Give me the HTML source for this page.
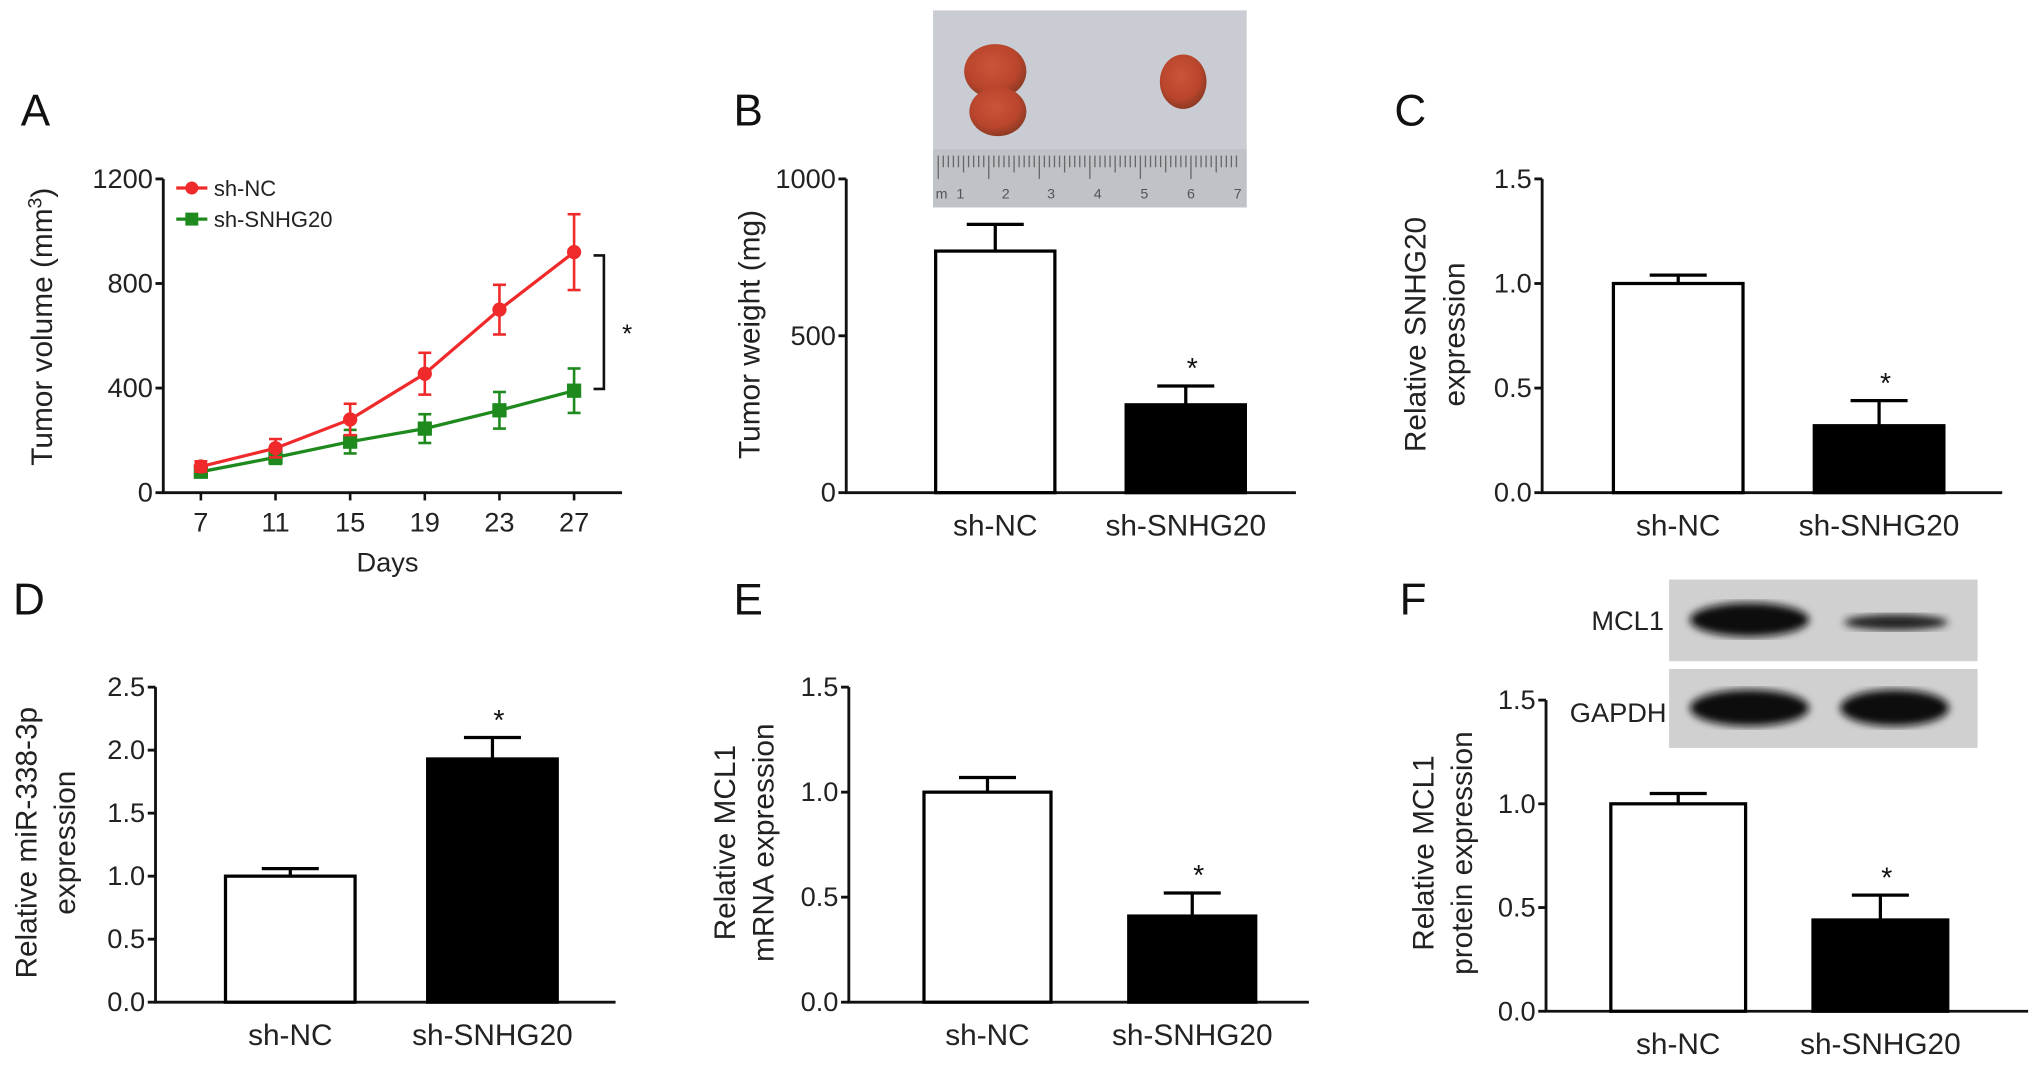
<!DOCTYPE html>
<html><head><meta charset="utf-8"><style>
html,body{margin:0;padding:0;background:#fff;}
svg{display:block;font-family:"Liberation Sans",Arial,sans-serif;}
</style></head><body>
<svg id="fig" width="2032" height="1067" viewBox="0 0 1568 823" preserveAspectRatio="none" xmlns="http://www.w3.org/2000/svg">
<defs>
<radialGradient id="tum" cx="45%" cy="40%" r="60%"><stop offset="0" stop-color="#c8543a"/><stop offset="0.7" stop-color="#b9452c"/><stop offset="1" stop-color="#8e3a24"/></radialGradient>
<filter id="blur"><feGaussianBlur stdDeviation="3"/></filter>
</defs>
<g>
<rect x="720" y="8" width="242" height="152" fill="#c9ccd2"/>
<rect x="720" y="115" width="242" height="45" fill="#bfc2c7"/>
<ellipse cx="768" cy="55" rx="24" ry="21" fill="url(#tum)"/>
<ellipse cx="770" cy="86" rx="22" ry="19" fill="url(#tum)"/>
<ellipse cx="913" cy="63" rx="18" ry="21" fill="url(#tum)"/>
<g id="ruler" stroke="#666" stroke-width="1"></g>
<g font-size="11" fill="#555">
<text x="722" y="153">m</text><text x="738" y="153">1</text><text x="773" y="153">2</text><text x="808" y="153">3</text><text x="844" y="153">4</text><text x="880" y="153">5</text><text x="916" y="153">6</text><text x="952" y="153">7</text>
</g>
</g>
<g>
<rect x="1288" y="447" width="238" height="63" fill="#d0d0d0"/>
<rect x="1288" y="516" width="238" height="61" fill="#d0d0d0"/>
<ellipse cx="1350" cy="478" rx="46" ry="13" fill="#111" filter="url(#blur)"/>
<ellipse cx="1463" cy="480" rx="40" ry="6" fill="#222" filter="url(#blur)"/>
<ellipse cx="1350" cy="546" rx="46" ry="14" fill="#111" filter="url(#blur)"/>
<ellipse cx="1462" cy="546" rx="42" ry="14" fill="#111" filter="url(#blur)"/>
<text x="1284" y="486" font-size="21" text-anchor="end" fill="#222">MCL1</text>
<text x="1286" y="557" font-size="21" text-anchor="end" fill="#222">GAPDH</text>
</g>
<g id="plots"></g>
</svg>
<script>
// Panel A data
const days = [7, 11, 15, 19, 23, 27];
const ncVolume = [100, 170, 280, 455, 700, 920];
const ncVolumeErr = [20, 35, 60, 80, 95, 145];
const snVolume = [80, 135, 195, 245, 315, 390];
const snVolumeErr = [15, 25, 45, 55, 70, 85];
const volTicks = [0, 400, 800, 1200];
// Bar panels
const groups = ["sh-NC", "sh-SNHG20"];
const weightVals = [770, 280];
const weightErr = [85, 60];
const weightTicks = [0, 500, 1000];
const snhgVals = [1.0, 0.32];
const snhgErr = [0.04, 0.12];
const mirVals = [1.0, 1.93];
const mirErr = [0.06, 0.17];
const mrnaVals = [1.0, 0.41];
const mrnaErr = [0.07, 0.11];
const protVals = [1.0, 0.44];
const protErr = [0.05, 0.12];
const tick15 = ["0.0", "0.5", "1.0", "1.5"];
const tick25 = ["0.0", "0.5", "1.0", "1.5", "2.0", "2.5"];

const NS = "http://www.w3.org/2000/svg";
const root = document.getElementById("plots");
function el(tag, attrs, parent, txt) {
  const e = document.createElementNS(NS, tag);
  for (const k in attrs) e.setAttribute(k, attrs[k]);
  if (txt !== undefined) e.textContent = txt;
  (parent || root).appendChild(e);
  return e;
}
const ruler = document.getElementById("ruler");
for (let i = 0; i < 60; i++) {
  const l = el("line", {x1: 724 + i * 3.9, x2: 724 + i * 3.9, y1: 120, y2: i % 10 === 0 ? 138 : (i % 5 === 0 ? 133 : 129)}, ruler);
  
  
}

function letter(t, x, y) {
  const e = el("text", {x: x, y: y, "font-size": 34, fill: "#111"}, root, t);
  
  
}

function yTitle(lines, x, cy, name) {
  const g = el("g", {});
  
  
  lines.forEach((ln, i) => {
    el("text", {x: 0, y: 0, "font-size": 23, "text-anchor": "middle", fill: "#222",
      transform: "translate(" + (x + i * 30) + "," + cy + ") rotate(-90)"}, g, ln);
  });
  return g;
}

function axesY(ax, top, bottom, xEnd, ticks, vmax, name) {
  const g = el("g", {stroke: "#111", "stroke-width": 2.2});
  
  
  el("line", {x1: ax, x2: ax, y1: top, y2: bottom + 1}, g);
  el("line", {x1: ax - 1, x2: xEnd, y1: bottom, y2: bottom}, g);
  ticks.forEach(t => {
    const v = parseFloat(t);
    const y = bottom - v / vmax * (bottom - top);
    el("line", {x1: ax - 6, x2: ax, y1: y, y2: y}, g);
    const tx = el("text", {x: ax - 8, y: y + 7, "font-size": 21, "text-anchor": "end", fill: "#222", stroke: "none"}, root, t);
    
    
  });
}

function barPanel(o) {
  const {ax, top, bottom, xEnd, ticks, vmax, vals, errs, centers, width, name, labelY} = o;
  axesY(ax, top, bottom, xEnd, ticks, vmax, name);
  const sy = v => bottom - v / vmax * (bottom - top);
  vals.forEach((v, i) => {
    const cx = centers[i];
    const y = sy(v);
    const r = el("rect", {x: cx - width / 2, y: y, width: width, height: bottom - y,
      fill: i === 0 ? "#fff" : "#000", stroke: "#000", "stroke-width": 2.5});
    
    
    const ye = sy(v + errs[i]);
    const eg = el("g", {stroke: "#000", "stroke-width": 2.5});
    
    
    el("line", {x1: cx, x2: cx, y1: y, y2: ye}, eg);
    el("line", {x1: cx - 22, x2: cx + 22, y1: ye, y2: ye}, eg);
    if (i === 1) {
      const s = el("text", {x: cx + 5, y: ye - 6, "font-size": 22, "text-anchor": "middle", fill: "#111"}, root, "*");
      
      
    }
    const lb = el("text", {x: cx, y: labelY, "font-size": 23, "text-anchor": "middle", fill: "#222"}, root, groups[i]);
    
    
  });
}

letter("A", 16, 97);
(function () {
  const ax = 126, top = 138, bottom = 380, xEnd = 480, vmax = 1200;
  axesY(ax, top, bottom, xEnd, volTicks.map(String), vmax, "panel-a");
  const sx = d => 155 + (d - 7) / 20 * 288;
  const sy = v => bottom - v / vmax * (bottom - top);
  days.forEach(d => {
    const l = el("line", {x1: sx(d), x2: sx(d), y1: bottom, y2: bottom + 6, stroke: "#111", "stroke-width": 2});
    
    
    const t = el("text", {x: sx(d), y: bottom + 30, "font-size": 21, "text-anchor": "middle", fill: "#222"}, root, String(d));
    
    
  });
  const xt = el("text", {x: 299, y: 441, "font-size": 21, "text-anchor": "middle", fill: "#222"}, root, "Days");
  
  
  const yt = el("text", {x: 0, y: 0, "font-size": 23, "text-anchor": "middle", fill: "#222", transform: "translate(40,252) rotate(-90)"});
  
  
  yt.innerHTML = 'Tumor volume (mm<tspan dy="-8" font-size="15">3</tspan><tspan dy="8">)</tspan>';
  function series(vals, errs, color, marker, name) {
    const g = el("g", {});
    
    
    const pts = days.map((d, i) => sx(d) + "," + sy(vals[i])).join(" ");
    el("polyline", {points: pts, fill: "none", stroke: color, "stroke-width": 2.5}, g);
    days.forEach((d, i) => {
      const x = sx(d), y1 = sy(vals[i] - errs[i]), y2 = sy(vals[i] + errs[i]);
      el("line", {x1: x, x2: x, y1: y1, y2: y2, stroke: color, "stroke-width": 2}, g);
      el("line", {x1: x - 5, x2: x + 5, y1: y1, y2: y1, stroke: color, "stroke-width": 2}, g);
      el("line", {x1: x - 5, x2: x + 5, y1: y2, y2: y2, stroke: color, "stroke-width": 2}, g);
      if (marker === "c") el("circle", {cx: x, cy: sy(vals[i]), r: 5.5, fill: color}, g);
      else el("rect", {x: x - 5.5, y: sy(vals[i]) - 5.5, width: 11, height: 11, fill: color}, g);
    });
  }
  series(snVolume, snVolumeErr, "#1e8a1e", "s", "series-sh-snhg20");
  series(ncVolume, ncVolumeErr, "#f02a2a", "c", "series-sh-nc");
  const lg = el("g", {});
  
  
  el("line", {x1: 136, x2: 160, y1: 145, y2: 145, stroke: "#f02a2a", "stroke-width": 2.5}, lg);
  el("circle", {cx: 148, cy: 145, r: 5, fill: "#f02a2a"}, lg);
  el("text", {x: 165, y: 151, "font-size": 17, fill: "#222"}, lg, "sh-NC");
  el("line", {x1: 136, x2: 160, y1: 169, y2: 169, stroke: "#1e8a1e", "stroke-width": 2.5}, lg);
  el("rect", {x: 143, y: 164, width: 10, height: 10, fill: "#1e8a1e"}, lg);
  el("text", {x: 165, y: 175, "font-size": 17, fill: "#222"}, lg, "sh-SNHG20");
  const br = el("polyline", {points: "458,197 466,197 466,300 458,300", fill: "none", stroke: "#111", "stroke-width": 2});
  
  
  const st = el("text", {x: 484, y: 264, "font-size": 20, "text-anchor": "middle", fill: "#111"}, root, "*");
  
  
})();

letter("B", 566, 97);
yTitle(["Tumor weight (mg)"], 586, 258, "panel-b-y-axis-title");
barPanel({ax: 653, top: 138, bottom: 380, xEnd: 1000, ticks: weightTicks.map(String), vmax: 1000,
  vals: weightVals, errs: weightErr, centers: [768, 915], width: 92, name: "panel-b", labelY: 413});

letter("C", 1076, 97);
yTitle(["Relative SNHG20", "expression"], 1100, 258, "panel-c-y-axis-title");
barPanel({ax: 1190, top: 138, bottom: 380, xEnd: 1545, ticks: tick15, vmax: 1.5,
  vals: snhgVals, errs: snhgErr, centers: [1295, 1450], width: 100, name: "panel-c", labelY: 413});

letter("D", 10, 474);
yTitle(["Relative miR-338-3p", "expression"], 28, 650, "panel-d-y-axis-title");
barPanel({ax: 120, top: 530, bottom: 773, xEnd: 475, ticks: tick25, vmax: 2.5,
  vals: mirVals, errs: mirErr, centers: [224, 380], width: 100, name: "panel-d", labelY: 806});

letter("E", 566, 474);
yTitle(["Relative MCL1", "mRNA expression"], 567, 650, "panel-e-y-axis-title");
barPanel({ax: 655, top: 530, bottom: 773, xEnd: 1010, ticks: tick15, vmax: 1.5,
  vals: mrnaVals, errs: mrnaErr, centers: [762, 920], width: 98, name: "panel-e", labelY: 806});

letter("F", 1080, 474);
yTitle(["Relative MCL1", "protein expression"], 1106, 658, "panel-f-y-axis-title");
barPanel({ax: 1193, top: 540, bottom: 780, xEnd: 1565, ticks: tick15, vmax: 1.5,
  vals: protVals, errs: protErr, centers: [1295, 1451], width: 104, name: "panel-f", labelY: 813});
</script>
</body></html>
